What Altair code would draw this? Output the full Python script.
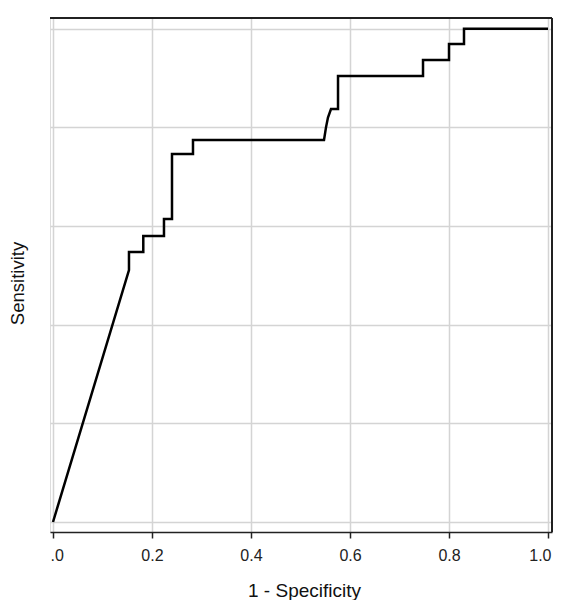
import altair as alt
import pandas as pd

# ROC curve points (1 - specificity, sensitivity)
fpr = [0.0, 0.1535, 0.1535, 0.1824, 0.1824, 0.2242, 0.2242, 0.2404, 0.2404,
       0.2828, 0.2828, 0.5475, 0.5515, 0.5555, 0.5616, 0.5758, 0.5758,
       0.7475, 0.7475, 0.8000, 0.8000, 0.8303, 0.8303, 1.0]
tpr = [0.0, 0.5108, 0.5473, 0.5473, 0.5798, 0.5798, 0.6142, 0.6142, 0.7460,
       0.7460, 0.7744, 0.7744, 0.8000, 0.8200, 0.8372, 0.8372, 0.9041,
       0.9041, 0.9366, 0.9366, 0.9690, 0.9690, 1.0, 1.0]
tick_values = [0.0, 0.2, 0.4, 0.6, 0.8, 1.0]

df = pd.DataFrame({"i": list(range(len(fpr))), "fpr": fpr, "tpr": tpr})

W, H = 502, 514
FONT = "Liberation Sans"

x_scale = alt.Scale(domain=[-0.00606, 1.00808], nice=False, zero=False)
y_scale = alt.Scale(domain=[-0.0203, 1.0217], nice=False, zero=False)

line = alt.Chart(df).mark_line(color="black", strokeWidth=2.5, interpolate="linear").encode(
    x=alt.X("fpr:Q", scale=x_scale, title="1 - Specificity",
            axis=alt.Axis(values=tick_values, format=".1f",
                          labelExpr="datum.value == 0 ? '.0' : format(datum.value, '.1f')",
                          grid=True, gridColor="#d4d4d4", gridWidth=1.5,
                          domainColor="#222222", domainWidth=1.5,
                          tickColor="#222222", tickWidth=1.5, tickSize=6,
                          labelFont=FONT, labelFontSize=16, labelColor="#222222",
                          labelPadding=9, labelFlush=10, labelFlushOffset=3,
                          titleFont=FONT, titleFontSize=19, titleFontWeight="normal",
                          titleColor="#111111", titlePadding=18, titleX=254)),
    y=alt.Y("tpr:Q", scale=y_scale, title="Sensitivity",
            axis=alt.Axis(values=tick_values, labels=False, ticks=False, domain=False,
                          grid=True, gridColor="#d4d4d4", gridWidth=1.5,
                          titleFont=FONT, titleFontSize=18.5, titleFontWeight="normal",
                          titleColor="#111111", titleX=-27, titleY=265,
                          titleBaseline="alphabetic", titleAngle=270)),
    order=alt.Order("i:Q"),
)

top_rule = alt.Chart(df).mark_rule(color="#222222", strokeWidth=1.5).encode(
    x=alt.value(0), x2=alt.value(W), y=alt.value(0)
)
right_rule = alt.Chart(df).mark_rule(color="#222222", strokeWidth=1.5).encode(
    x=alt.value(W), y=alt.value(0), y2=alt.value(H)
)

chart = alt.layer(line, top_rule, right_rule).properties(
    width=W, height=H,
    autosize=alt.AutoSizeParams(type="none"),
    padding={"left": 42, "top": 10, "right": 1, "bottom": 68},
).configure_view(stroke=None).configure(background="white")

chart.save("out.html", embed_options={"renderer": "svg", "actions": False})
